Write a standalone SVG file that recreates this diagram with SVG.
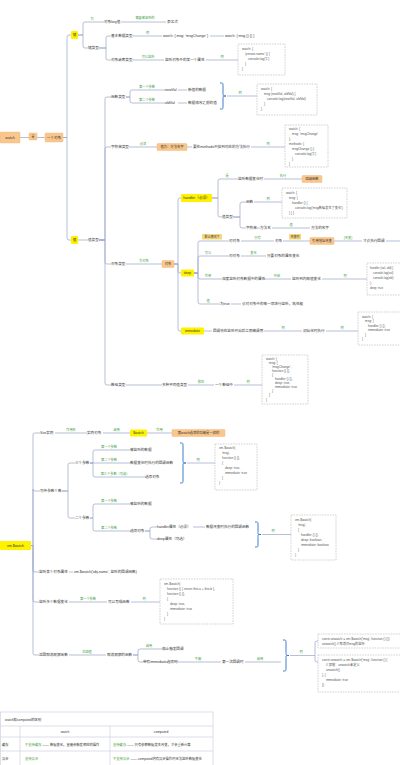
<svg xmlns="http://www.w3.org/2000/svg" width="400" height="765" viewBox="0 0 400 765">
<style>
.l{fill:none;stroke:#9aa4c8;stroke-width:.7}
.t{font-family:'Liberation Sans','Noto Sans CJK SC',sans-serif;font-size:3.6px;fill:#333}
.m{text-anchor:middle}
.g{font-family:'Liberation Sans','Noto Sans CJK SC',sans-serif;font-size:3.2px;fill:#3f9f3f;text-anchor:middle}
.c{font-family:'Liberation Sans','Noto Sans CJK SC',sans-serif;font-size:3.2px;fill:#555}
.cb{fill:#fff;stroke:#b5b5b5;stroke-width:.6;stroke-dasharray:1.6 1}
.y{fill:#fff200}
.o{fill:#f9c78d;stroke:#efb070;stroke-width:.4}
.p{fill:#f6d77e}
.br{fill:none;stroke:#2a6fc9;stroke-width:.9}
.tb{fill:none;stroke:#c3c9de;stroke-width:.6}
</style>
<rect width="400" height="765" fill="#fff"/>
<g id="connectors">
<path class="l" d="M20,137.5H45M63,137.5H67V37Q67,35 69,35H71M63,137.5H67V238Q67,240 69,240H71"/>
<path class="l" d="M78,35H83V24Q83,22 85,22H104M78,35H83V46Q83,48 85,48H88M121,22H166"/>
<path class="l" d="M99,48H106V38Q106,36 108,36H111M99,48H106V58Q106,60 108,60H111M133,36H162M210,36H224M133,60H164M206,60H238"/>
<path class="l" d="M78,240H88M99,240H105V99Q105,97 107,97H111M99,240H105V149Q105,147 107,147H111M99,240H105V262Q105,264 107,264H111M99,240H105V383Q105,385 107,385H111"/>
<path class="l" d="M126,97H130V92Q130,90 132,90H165M126,97H130V101Q130,103 132,103H165M178,90H187M178,103H187M227,96H257"/>
<path class="l" d="M129,147H157M187,147H192M251,147H285"/>
<path class="l" d="M126,264H162M174,264H178V200Q178,198 180,198H181M174,264H178V271Q178,273 180,273H181M174,264H178V329Q178,331 180,331H181"/>
<path class="l" d="M212,198H218V181Q218,179 220,179H238M212,198H218V215Q218,217 220,217H222M264,179H302M233,217H240V204Q240,202 242,202H246M233,217H240V226Q240,228 242,228H246M254,202H282M257,228H260M272,228H310"/>
<path class="l" d="M194,273H198V243Q198,241 200,241H229M194,273H198V258Q198,256 200,256H229M194,273H198V277Q198,279 200,279H222M194,273H198V302Q198,304 200,304H220M241,241H274M283,241H310M334,241H362M386,241H400M241,256H266M264,279H291M322,279H367M231,304H241"/>
<path class="l" d="M204,331H212M264,331H302M326,331H358M126,385H162M188,385H214M234,385H262"/>
<path class="l" d="M31,545.5H33V435Q33,433 35,433H40M31,545.5H33V489Q33,491 35,491H40M31,545.5H33V570Q33,572 35,572H39M31,545.5H33V600Q33,602 35,602H39M31,545.5H33V653Q33,655 35,655H39"/>
<path class="l" d="M55,433H87M103,433H130M147,433H172"/>
<path class="l" d="M62,491H68V465Q68,463 70,463H75M62,491H68V516Q68,518 70,518H75M90,463H93V452Q93,450 95,450H130M90,463H130M90,463H93V475Q93,477 95,477H145M187,463H215"/>
<path class="l" d="M90,518H93V506Q93,504 95,504H130M90,518H93V529Q93,531 95,531H130M145,531H150V529Q150,527 152,527H157M145,531H150V537Q150,539 152,539H157M193,527H205M262,534.5H291"/>
<path class="l" d="M69,572H73M69,602H107M131,602H160M69,655H106M133,655H138V651Q138,649 140,649H162M133,655H138V660Q138,662 140,662H143M175,662H221M245,662H281M290,655.5H315V643Q315,641 317,641H318M315,655.5V660Q315,662 317,662H318"/>
<path class="br" d="M220,83C223,83 223,83 223,86V93C223,96 223,96 226,96C223,96 223,96 223,99V106C223,109 223,109 220,109"/>
<path class="br" d="M180,443C183,443 183,443 183,446V460C183,463 183,463 186,463C183,463 183,463 183,466V480C183,483 183,483 180,483"/>
<path class="br" d="M255,522C258,522 258,522 258,525V531.5C258,534.5 258,534.5 261,534.5C258,534.5 258,534.5 258,537.5V544C258,547 258,547 255,547"/>
<path class="br" d="M283,640C286,640 286,640 286,643V652.5C286,655.5 286,655.5 289,655.5C286,655.5 286,655.5 286,658.5V668C286,671 286,671 283,671"/>
</g>
<g id="labels">
<text class="g" x="92" y="19.5">为</text>
<text class="g" x="145" y="19">需要被监听的</text>
<text class="g" x="147.5" y="33.5">例</text>
<text class="g" x="148" y="57.5">可以监听</text>
<text class="g" x="222" y="57.5">例</text>
<text class="g" x="147" y="87.5">第一个参数</text>
<text class="g" x="147" y="100.5">第二个参数</text>
<text class="g" x="240" y="93.5">例</text>
<text class="g" x="143" y="144.5">必须</text>
<text class="g" x="268" y="144.5">例</text>
<text class="g" x="144" y="261.5">为对象</text>
<text class="g" x="227" y="176.5">是</text>
<text class="g" x="283" y="176.5">执行</text>
<text class="g" x="268" y="199.5">例</text>
<text class="g" x="291" y="225.5">值</text>
<text class="g" x="257.5" y="238.5">只有</text>
<text class="g" x="348" y="238.5">(改变)</text>
<text class="g" x="208" y="253.5">可以</text>
<text class="g" x="253.5" y="253.5">变化</text>
<text class="g" x="208" y="276.5">作用</text>
<text class="g" x="277" y="276.5">开启</text>
<text class="g" x="345" y="276.5">例</text>
<text class="g" x="208" y="301.5">值</text>
<text class="g" x="283" y="328.5">例</text>
<text class="g" x="342" y="328.5">例</text>
<text class="g" x="201" y="382.5">放在</text>
<text class="g" x="248" y="382.5">例</text>
<text class="g" x="71" y="430.5">作用在</text>
<text class="g" x="116.5" y="430.5">调用</text>
<text class="g" x="159.5" y="430.5">作用</text>
<text class="g" x="109" y="447.5">第一个参数</text>
<text class="g" x="109" y="460.5">第二个参数</text>
<text class="g" x="115" y="474.5">第三个参数（可选）</text>
<text class="g" x="198" y="460.5">例</text>
<text class="g" x="109" y="501.5">第一个参数</text>
<text class="g" x="109" y="528.5">第二个参数</text>
<text class="g" x="273" y="532">例</text>
<text class="g" x="88" y="599.5">第一个参数</text>
<text class="g" x="144" y="599.5">例</text>
<text class="g" x="87" y="652.5">返回值</text>
<text class="g" x="149" y="646.5">调用</text>
<text class="g" x="198" y="659.5">不能</text>
<text class="g" x="260" y="659.5">调用</text>
<text class="g" x="301" y="653">例</text>
</g>
<g id="n-watch"><rect class="o" x="0" y="132" width="20" height="11" rx="1"/><text class="t m" x="10" y="139">watch</text></g>
<g id="n-shi"><rect class="o" x="29" y="133" width="8" height="7" rx=".8"/><text class="t m" x="33" y="138.2" style="font-size:3px">是</text></g>
<g id="n-obj"><rect class="o" x="45" y="133" width="18" height="9" rx="1"/><text class="t m" x="54" y="138.8">一个对象</text></g>
<g id="n-key"><rect class="y" x="71" y="31" width="7" height="8" rx="1"/><text class="t m" x="74.5" y="36.3">键</text></g>
<g id="n-val"><rect class="y" x="71" y="236" width="7" height="8" rx="1"/><text class="t m" x="74.5" y="241.3">值</text></g>
<g id="n-keyrow"><text class="t" x="104" y="23.3">对象key值</text><text class="t" x="167" y="23.3">表达式</text><text class="t" x="88" y="49.3">键类型</text></g>
<g id="n-basic"><text class="t" x="111" y="37.3">基本数据类型</text><text class="t" x="163" y="37.3">watch: { msg: 'msgChange' }</text><text class="t" x="225" y="37.3">watch: { msg () {} }</text></g>
<g id="n-nested"><text class="t" x="111" y="61.3">对象嵌套类型</text><text class="t" x="165" y="61.3">监听对象中的某一个属性</text>
<rect class="cb" x="238" y="44" width="47" height="31"/>
<text class="c" x="242" y="50">watch: {</text><text class="c" x="245" y="55">'person.name' () {</text><text class="c" x="248" y="60">console.log('1')</text><text class="c" x="245" y="65">}</text><text class="c" x="242" y="70">}</text></g>
<g id="n-valtype"><text class="t" x="88" y="241.3">值类型</text></g>
<g id="n-func"><text class="t" x="111" y="98.3">函数类型</text>
<text class="t" x="165" y="91.3">newVal</text><text class="t" x="188" y="91.3">新值的数据</text>
<text class="t" x="165" y="104.3">oldVal</text><text class="t" x="188" y="104.3">数据修改之前的值</text>
<rect class="cb" x="257" y="84" width="60" height="31"/>
<text class="c" x="261" y="90">watch: {</text><text class="c" x="264" y="95">msg (newVal, oldVal) {</text><text class="c" x="267" y="100">console.log(newVal, oldVal)</text><text class="c" x="264" y="105">}</text><text class="c" x="261" y="110">}</text></g>
<g id="n-string"><text class="t" x="111" y="148.3">字符串类型</text>
<rect class="o" x="157" y="143.5" width="30" height="7" rx=".8"/><text class="t m" x="172" y="148.3" style="font-size:3.3px">值为：方法名字</text>
<text class="t" x="193" y="148.3">要在methods中找到对应的方法执行</text>
<rect class="cb" x="285" y="125" width="43" height="42"/>
<text class="c" x="289" y="130">watch: {</text><text class="c" x="292" y="135">msg: 'msgChange'</text><text class="c" x="289" y="140">},</text><text class="c" x="289" y="145">methods: {</text><text class="c" x="292" y="150">msgChange () {</text><text class="c" x="295" y="155">console.log('1')</text><text class="c" x="292" y="160">}</text><text class="c" x="289" y="164.5">}</text></g>
<g id="n-objtype"><text class="t" x="111" y="265.3">对象类型</text>
<rect class="o" x="162" y="260.5" width="12" height="7" rx=".8"/><text class="t m" x="168" y="265.3" style="font-size:3.3px">对象</text></g>
<g id="n-handler"><rect class="y" x="181" y="194" width="31" height="8" rx="1"/><text class="t m" x="196.5" y="199.3">handler（必须）</text>
<text class="t" x="238" y="180.3">监听数据变化时</text>
<rect class="o" x="302" y="175.5" width="20" height="7" rx=".8"/><text class="t m" x="312" y="180.3" style="font-size:3.3px">回调函数</text>
<text class="t" x="222" y="218.3">值类型</text>
<text class="t" x="246" y="203.3">函数</text>
<rect class="cb" x="282" y="188" width="65" height="30"/>
<text class="c" x="286" y="194">watch: {</text><text class="c" x="289" y="199">msg: {</text><text class="c" x="292" y="204">handler () {</text><text class="c" x="295" y="209">console.log('msg数据发生了变化')</text><text class="c" x="289" y="214">} } }</text>
<text class="t" x="246" y="229.3">字符串</text><text class="t" x="260" y="229.3">方法名</text><text class="t" x="311" y="229.3">方法的名字</text></g>
<g id="n-deep"><rect class="y" x="181" y="269.5" width="13" height="7" rx="1"/><text class="t m" x="187.5" y="274.3" style="font-size:3.3px">deep</text>
<rect class="p" x="202" y="234" width="20" height="5.5" rx=".6"/><text class="t m" x="212" y="237.9" style="font-size:3px">默认情况下</text>
<text class="t" x="229" y="242.3">对对象</text><text class="t" x="275" y="242.3">对象</text>
<rect class="p" x="289" y="234" width="12" height="5.5" rx=".6"/><text class="t m" x="295" y="237.9" style="font-size:3px">改变时</text>
<rect class="o" x="310" y="237.5" width="24" height="7" rx=".8"/><text class="t m" x="322" y="242.3" style="font-size:3.3px">引用地址改变</text>
<text class="t" x="363" y="242.3">才会执行回调</text>
<text class="t" x="229" y="257.3">对对象</text><text class="t" x="267" y="257.3">只要对象的属性变化</text>
<text class="t" x="222" y="280.3">深度监听对象数据中的属性</text><text class="t" x="292" y="280.3">监听到内部值变化</text>
<rect class="cb" x="367" y="263" width="38" height="32"/>
<text class="c" x="370" y="269" style="font-size:2.9px">handler (val, old) {</text><text class="c" x="373" y="274" style="font-size:2.9px">console.log(val)</text><text class="c" x="373" y="279" style="font-size:2.9px">console.log(old)</text><text class="c" x="370" y="284" style="font-size:2.9px">},</text><text class="c" x="370" y="289" style="font-size:2.9px">deep: true</text>
<text class="t" x="220" y="305.3">为true</text><text class="t" x="242" y="305.3">会对对象中的每一项进行监听，耗性能</text></g>
<g id="n-immediate"><rect class="y" x="181" y="327.5" width="23" height="7" rx="1"/><text class="t m" x="192.5" y="332.3" style="font-size:3.3px">immediate</text>
<text class="t" x="213" y="332.3">回调将在监听开始后立即被调用</text><text class="t" x="303" y="332.3">初始化时执行</text>
<rect class="cb" x="358" y="312" width="47" height="33"/>
<text class="c" x="362" y="317.5">watch: {</text><text class="c" x="365" y="322">msg: {</text><text class="c" x="368" y="326.5">handler () {},</text><text class="c" x="368" y="331">immediate: true</text><text class="c" x="365" y="335.5">}</text><text class="c" x="362" y="340">}</text></g>
<g id="n-array"><text class="t" x="111" y="386.3">数组类型</text><text class="t" x="162" y="386.3">多种不同值类型</text><text class="t" x="215" y="386.3">一个数组中</text>
<rect class="cb" x="262" y="355" width="46" height="49"/>
<text class="c" x="266" y="359.5">watch: {</text><text class="c" x="269" y="363.6">msg: [</text><text class="c" x="272" y="367.7">'msgChange',</text><text class="c" x="272" y="371.8">function () {},</text><text class="c" x="272" y="375.9">{</text><text class="c" x="275" y="380">handler () {},</text><text class="c" x="275" y="384.1">deep: true,</text><text class="c" x="275" y="388.2">immediate: true</text><text class="c" x="272" y="392.3">}</text><text class="c" x="269" y="396.4">]</text><text class="c" x="266" y="400.5">}</text></g>
<g id="n-vmwatch"><rect class="y" x="0" y="541" width="31" height="9" rx="1"/><text class="t m" x="15.5" y="546.8">vm.$watch</text></g>
<g id="n-vue"><text class="t" x="40" y="434.3">Vue实例</text><text class="t" x="87" y="434.3">实例对象</text>
<rect class="y" x="130" y="429.5" width="17" height="7" rx="1"/><text class="t m" x="138.5" y="434.3" style="font-size:3.3px">$watch</text>
<rect class="o" x="172" y="429.5" width="53" height="7" rx=".8"/><text class="t m" x="198.5" y="434.3" style="font-size:3.3px">跟watch选项的功能是一样的</text></g>
<g id="n-params"><text class="t" x="40" y="492.3">可传参数个数</text>
<text class="t" x="75" y="464.3">三个参数</text>
<text class="t" x="130" y="451.3">被监听的数据</text><text class="t" x="130" y="464.3">数据变化时执行的回调函数</text><text class="t" x="145" y="478.3">选项对象</text>
<rect class="cb" x="215" y="444" width="42" height="46"/>
<text class="c" x="219" y="449">vm.$watch(</text><text class="c" x="222" y="454">'msg',</text><text class="c" x="222" y="459">function () {},</text><text class="c" x="222" y="464">{</text><text class="c" x="225" y="469">deep: true,</text><text class="c" x="225" y="474">immediate: true</text><text class="c" x="222" y="479">}</text><text class="c" x="219" y="484">)</text>
<text class="t" x="75" y="519.3">二个参数</text>
<text class="t" x="130" y="505.3">被监听的数据</text><text class="t" x="130" y="532.3">选项对象</text>
<text class="t" x="157" y="528.3">handler属性（必须）</text><text class="t" x="206" y="528.3">数据改变时执行的回调函数</text>
<text class="t" x="157" y="540.3">deep属性（可选）</text>
<rect class="cb" x="291" y="515" width="45" height="45"/>
<text class="c" x="295" y="521">vm.$watch(</text><text class="c" x="298" y="526">'msg',</text><text class="c" x="298" y="531">{</text><text class="c" x="301" y="536">handler () {},</text><text class="c" x="301" y="541">deep: boolean,</text><text class="c" x="301" y="546">immediate: boolean</text><text class="c" x="298" y="551">}</text><text class="c" x="295" y="556">)</text></g>
<g id="n-objprop"><text class="t" x="39" y="573.3">监听某个对象属性</text><text class="t" x="74" y="573.3">vm.$watch('obj.name', 监听的回调函数)</text></g>
<g id="n-multi"><text class="t" x="39" y="603.3">监听多个数据变化</text><text class="t" x="108" y="603.3">可以写成函数</text>
<rect class="cb" x="160" y="579" width="73" height="45"/>
<text class="c" x="164" y="585">vm.$watch(</text><text class="c" x="167" y="590">function () { return this.a + this.b },</text><text class="c" x="167" y="595">function () {},</text><text class="c" x="167" y="600">{</text><text class="c" x="170" y="605">deep: true,</text><text class="c" x="170" y="610">immediate: true</text><text class="c" x="167" y="615">}</text><text class="c" x="164" y="620">)</text></g>
<g id="n-unwatch"><text class="t" x="39" y="656.3">返回取消观察函数</text><text class="t" x="107" y="656.3">取消观察的函数</text>
<text class="t" x="162" y="650.3">停止触发回调</text><text class="t" x="143" y="663.3">带有immediate选项时</text><text class="t" x="222" y="663.3">第一次回调时</text>
<rect class="cb" x="318" y="634" width="87" height="14"/>
<text class="c" x="322" y="639.5">const unwatch = vm.$watch('msg', function () {})</text><text class="c" x="322" y="644.5">unwatch() // 取消对msg的监听</text>
<rect class="cb" x="318" y="655" width="87" height="37"/>
<text class="c" x="322" y="660.5">const unwatch = vm.$watch('msg', function () {</text><text class="c" x="326" y="665.5">// 报错：unwatch未定义</text><text class="c" x="326" y="670.5">unwatch()</text><text class="c" x="322" y="675.5">}, {</text><text class="c" x="326" y="680.5">immediate: true</text><text class="c" x="322" y="685.5">})</text></g>
<g id="table">
<rect class="tb" x="0.5" y="712" width="212.5" height="56"/>
<path class="tb" d="M0.5,726H213M0.5,737H213M0.5,751H213M20,726V768M110,726V768"/>
<text class="t" x="5" y="720.5" style="font-size:3.3px">watch和computed的区别</text>
<text class="t m" x="65" y="733" style="font-size:3.3px">watch</text><text class="t m" x="161" y="733" style="font-size:3.3px">computed</text>
<text class="t" x="2" y="745.5" style="font-size:3.3px">缓存</text>
<text class="t" x="25" y="745.5" style="font-size:3.3px"><tspan fill="#3f9f3f">不支持缓存</tspan> —— 数据变化，直接会触发相应的操作</text>
<text class="t" x="113" y="745.5" style="font-size:3.3px"><tspan fill="#3f9f3f">支持缓存</tspan> —— 只有依赖数据发生改变，才会重新计算</text>
<text class="t" x="2" y="759.5" style="font-size:3.3px">异步</text>
<text class="t" x="25" y="759.5" style="font-size:3.3px;fill:#3f9f3f">支持异步</text>
<text class="t" x="113" y="759.5" style="font-size:3.3px"><tspan fill="#3f9f3f">不支持异步</tspan> —— computed内有异步操作时无法监听数据变化</text>
</g>
</svg>
